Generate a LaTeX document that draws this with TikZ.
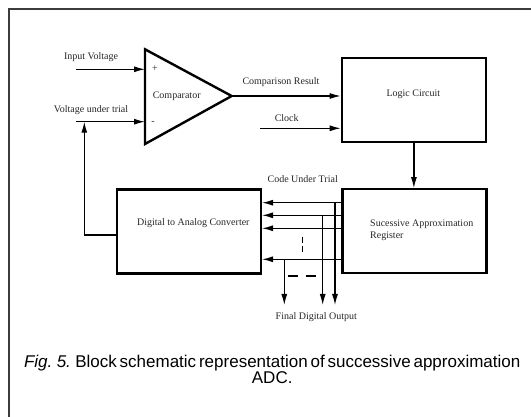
\documentclass[tikz,border=0pt]{standalone}
\usepackage{fontspec}
\setmainfont{Liberation Serif}
\newfontfamily\capfont[WordSpace=0.6]{Liberation Sans}
\usetikzlibrary{arrows.meta}
\definecolor{labelgray}{HTML}{262626}
\definecolor{framegray}{HTML}{3C3C3C}
\begin{document}
\begin{tikzpicture}[x=1pt,y=-1pt,
  block/.style={draw, line width=2.4pt, minimum width=144pt, minimum height=84pt, inner sep=0pt},
  sig/.style={line width=1.2pt, -{Latex[length=11pt,width=6pt]}},
  dashmark/.style={line width=1.5pt},
  lbl/.style={font=\fontsize{10}{12.4}\selectfont, text=labelgray, inner sep=0pt}
]
\useasboundingbox (0,0) rectangle (531,417);
\clip (0,0) rectangle (531,417);

% page frame
\draw[framegray, line width=2pt] (9,440) -- (9,9.5) -- (545,9.5);

% comparator
\coordinate (ctop) at (145,49.3);
\coordinate (cbot) at (145,144);
\coordinate (cout) at (231.7,96);
\coordinate (cp) at (145,69.3);
\coordinate (cm) at (145,121.7);
\draw[line width=2.4pt, line join=miter] (ctop) -- (cout) -- (cbot) -- cycle;
\node[lbl] (plus) at (155,69) {+};
\node[lbl] (minus) at (153,123) {-};
\node[lbl] (complbl) at (176.7,96) {Comparator};

% blocks
\node[block] (logic) at (413.9,100.3) {};
\node[block] (sar) at (414.5,231.3) {};
\node[block] (dac) at (188.9,231.7) {};
\node[lbl] (logiclbl) at (413.3,94) {Logic Circuit};
\node[lbl, align=left, anchor=west] (sarlbl) at (370,230.5) {Sucessive Approximation\\Register};
\node[lbl] (daclbl) at (193.3,223.3) {Digital to Analog Converter};

% comparator inputs
\coordinate (vin) at (76,69.3);
\coordinate (vtr) at (76,121.7);
\draw[sig] (vin) -- (cp);
\draw[sig] (vtr) -- (cm);
\node[lbl] (vinlbl) at (91,56.7) {Input Voltage};
\node[lbl] (vtrlbl) at (91,110) {Voltage under trial};

% feedback from the DAC
\coordinate (fb) at (84.3,235);
\draw[sig] (dac.west |- fb) -- (fb) -- (fb |- vtr);

% comparison result and clock
\draw[sig] (cout) -- (cout -| logic.west);
\node[lbl] (cmplbl) at (281,82.3) {Comparison Result};
\coordinate (clk) at (260,128.3);
\draw[sig] (clk) -- (clk -| logic.west);
\node[lbl] (clklbl) at (286.7,118.3) {Clock};

% logic circuit drives the register
\draw[sig] (logic.south) -- (logic.south |- sar.north);

% code bus
\coordinate (b1) at (335,202.7);
\coordinate (b2) at (322.7,215.3);
\coordinate (b3) at (300,228.3);
\coordinate (b4) at (284.3,259.3);
\foreach \b in {b1,b2,b3,b4}
  \draw[sig] (sar.west |- \b) -- (dac.east |- \b);
\node[lbl] (codelbl) at (302.7,179.3) {Code Under Trial};

% final digital output taps
\coordinate (out) at (0,305);
\draw[sig] (b1) -- (b1 |- out);
\draw[sig] (b2) -- (b2 |- out);
\draw[sig] (b4) -- (b4 |- out);
\node[lbl] (outlbl) at (316.3,317.3) {Final Digital Output};

% omitted bits
\draw[dashmark] (302.3,236.7) -- (302.3,242.7) (302.3,246) -- (302.3,251.7);
\draw[dashmark] (288.3,276) -- (298.3,276) (306,276) -- (316,276);

% caption
\node[font=\capfont\fontsize{17}{16}\selectfont, align=center, inner sep=0pt] (caption) at (272.2,369)
  {\textit{Fig. 5.} Block schematic representation of successive approximation\\ADC.};
\end{tikzpicture}
\end{document}
